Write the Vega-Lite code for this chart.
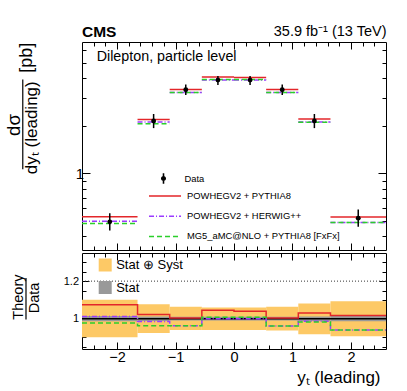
{
  "$schema": "https://vega.github.io/schema/vega-lite/v6.json",
  "padding": {"left": 4, "top": 22, "right": 5, "bottom": 5},
  "spacing": 1,
  "config": {
    "font": "Liberation Sans",
    "view": {"stroke": "#000", "strokeWidth": 1},
    "axis": {"domain": false, "grid": false, "tickColor": "#000", "labelColor": "#000", "titleColor": "#000", "labelFont": "Liberation Sans", "titleFont": "Liberation Sans", "titleFontWeight": "normal"},
    "legend": {"padding": 0, "labelFont": "Liberation Sans", "labelColor": "#000", "labelLimit": 400}
  },
  "resolve": {
    "scale": {"x": "independent", "y": "independent", "color": "independent", "fill": "independent", "stroke": "independent", "strokeDash": "independent"},
    "legend": {"color": "independent", "fill": "independent", "stroke": "independent", "strokeDash": "independent"}
  },
  "datasets": {
    "meas": [
      {"xc": -2.125, "val": 0.494, "elo": 0.435, "ehi": 0.56},
      {"xc": -1.375, "val": 2.14, "elo": 1.93, "ehi": 2.37},
      {"xc": -0.825, "val": 3.37, "elo": 3.12, "ehi": 3.64},
      {"xc": -0.275, "val": 3.88, "elo": 3.61, "ehi": 4.11},
      {"xc": 0.275, "val": 3.88, "elo": 3.61, "ehi": 4.11},
      {"xc": 0.825, "val": 3.37, "elo": 3.12, "ehi": 3.64},
      {"xc": 1.375, "val": 2.14, "elo": 1.93, "ehi": 2.37},
      {"xc": 2.125, "val": 0.521, "elo": 0.46, "ehi": 0.59}
    ],
    "theory": [
      {"model": "POWHEGV2 + PYTHIA8", "lo": -2.6, "hi": -1.65, "val": 0.531},
      {"model": "POWHEGV2 + PYTHIA8", "lo": -1.65, "hi": -1.1, "val": 2.187},
      {"model": "POWHEGV2 + PYTHIA8", "lo": -1.1, "hi": -0.55, "val": 3.383},
      {"model": "POWHEGV2 + PYTHIA8", "lo": -0.55, "hi": 0, "val": 4.055},
      {"model": "POWHEGV2 + PYTHIA8", "lo": 0, "hi": 0.55, "val": 4.035},
      {"model": "POWHEGV2 + PYTHIA8", "lo": 0.55, "hi": 1.1, "val": 3.38},
      {"model": "POWHEGV2 + PYTHIA8", "lo": 1.1, "hi": 1.65, "val": 2.204},
      {"model": "POWHEGV2 + PYTHIA8", "lo": 1.65, "hi": 2.6, "val": 0.53},
      {"model": "POWHEGV2 + HERWIG++", "lo": -2.6, "hi": -1.65, "val": 0.499},
      {"model": "POWHEGV2 + HERWIG++", "lo": -1.65, "hi": -1.1, "val": 2.108},
      {"model": "POWHEGV2 + HERWIG++", "lo": -1.1, "hi": -0.55, "val": 3.242},
      {"model": "POWHEGV2 + HERWIG++", "lo": -0.55, "hi": 0, "val": 3.88},
      {"model": "POWHEGV2 + HERWIG++", "lo": 0, "hi": 0.55, "val": 3.88},
      {"model": "POWHEGV2 + HERWIG++", "lo": 0.55, "hi": 1.1, "val": 3.239},
      {"model": "POWHEGV2 + HERWIG++", "lo": 1.1, "hi": 1.65, "val": 2.11},
      {"model": "POWHEGV2 + HERWIG++", "lo": 1.65, "hi": 2.6, "val": 0.489},
      {"model": "MG5_aMC@NLO + PYTHIA8 [FxFx]", "lo": -2.6, "hi": -1.65, "val": 0.483},
      {"model": "MG5_aMC@NLO + PYTHIA8 [FxFx]", "lo": -1.65, "hi": -1.1, "val": 2.059},
      {"model": "MG5_aMC@NLO + PYTHIA8 [FxFx]", "lo": -1.1, "hi": -0.55, "val": 3.242},
      {"model": "MG5_aMC@NLO + PYTHIA8 [FxFx]", "lo": -0.55, "hi": 0, "val": 3.911},
      {"model": "MG5_aMC@NLO + PYTHIA8 [FxFx]", "lo": 0, "hi": 0.55, "val": 3.911},
      {"model": "MG5_aMC@NLO + PYTHIA8 [FxFx]", "lo": 0.55, "hi": 1.1, "val": 3.239},
      {"model": "MG5_aMC@NLO + PYTHIA8 [FxFx]", "lo": 1.1, "hi": 1.65, "val": 2.101},
      {"model": "MG5_aMC@NLO + PYTHIA8 [FxFx]", "lo": 1.65, "hi": 2.6, "val": 0.489}
    ],
    "ratios": [
      {"model": "POWHEGV2 + PYTHIA8", "x": -2.6, "r": 1.074},
      {"model": "POWHEGV2 + PYTHIA8", "x": -1.65, "r": 1.022},
      {"model": "POWHEGV2 + PYTHIA8", "x": -1.1, "r": 1.004},
      {"model": "POWHEGV2 + PYTHIA8", "x": -0.55, "r": 1.045},
      {"model": "POWHEGV2 + PYTHIA8", "x": 0, "r": 1.04},
      {"model": "POWHEGV2 + PYTHIA8", "x": 0.55, "r": 1.003},
      {"model": "POWHEGV2 + PYTHIA8", "x": 1.1, "r": 1.03},
      {"model": "POWHEGV2 + PYTHIA8", "x": 1.65, "r": 1.017},
      {"model": "POWHEGV2 + PYTHIA8", "x": 2.6, "r": 1.017},
      {"model": "POWHEGV2 + HERWIG++", "x": -2.6, "r": 1.011},
      {"model": "POWHEGV2 + HERWIG++", "x": -1.65, "r": 0.985},
      {"model": "POWHEGV2 + HERWIG++", "x": -1.1, "r": 0.962},
      {"model": "POWHEGV2 + HERWIG++", "x": -0.55, "r": 1.0},
      {"model": "POWHEGV2 + HERWIG++", "x": 0, "r": 1.0},
      {"model": "POWHEGV2 + HERWIG++", "x": 0.55, "r": 0.961},
      {"model": "POWHEGV2 + HERWIG++", "x": 1.1, "r": 0.986},
      {"model": "POWHEGV2 + HERWIG++", "x": 1.65, "r": 0.939},
      {"model": "POWHEGV2 + HERWIG++", "x": 2.6, "r": 0.939},
      {"model": "MG5_aMC@NLO + PYTHIA8 [FxFx]", "x": -2.6, "r": 0.977},
      {"model": "MG5_aMC@NLO + PYTHIA8 [FxFx]", "x": -1.65, "r": 0.962},
      {"model": "MG5_aMC@NLO + PYTHIA8 [FxFx]", "x": -1.1, "r": 0.962},
      {"model": "MG5_aMC@NLO + PYTHIA8 [FxFx]", "x": -0.55, "r": 1.008},
      {"model": "MG5_aMC@NLO + PYTHIA8 [FxFx]", "x": 0, "r": 1.008},
      {"model": "MG5_aMC@NLO + PYTHIA8 [FxFx]", "x": 0.55, "r": 0.961},
      {"model": "MG5_aMC@NLO + PYTHIA8 [FxFx]", "x": 1.1, "r": 0.982},
      {"model": "MG5_aMC@NLO + PYTHIA8 [FxFx]", "x": 1.65, "r": 0.939},
      {"model": "MG5_aMC@NLO + PYTHIA8 [FxFx]", "x": 2.6, "r": 0.939}
    ],
    "bands": [
      {"band": "Stat ⊕ Syst", "lo": -2.6, "hi": -1.65, "blo": 0.901, "bhi": 1.101},
      {"band": "Stat ⊕ Syst", "lo": -1.65, "hi": -1.1, "blo": 0.924, "bhi": 1.077},
      {"band": "Stat ⊕ Syst", "lo": -1.1, "hi": -0.55, "blo": 0.939, "bhi": 1.063},
      {"band": "Stat ⊕ Syst", "lo": -0.55, "hi": 0, "blo": 0.94, "bhi": 1.06},
      {"band": "Stat ⊕ Syst", "lo": 0, "hi": 0.55, "blo": 0.94, "bhi": 1.06},
      {"band": "Stat ⊕ Syst", "lo": 0.55, "hi": 1.1, "blo": 0.937, "bhi": 1.063},
      {"band": "Stat ⊕ Syst", "lo": 1.1, "hi": 1.65, "blo": 0.917, "bhi": 1.081},
      {"band": "Stat ⊕ Syst", "lo": 1.65, "hi": 2.6, "blo": 0.906, "bhi": 1.093},
      {"band": "Stat", "lo": -2.6, "hi": -1.65, "blo": 0.986, "bhi": 1.014},
      {"band": "Stat", "lo": -1.65, "hi": -1.1, "blo": 0.988, "bhi": 1.012},
      {"band": "Stat", "lo": -1.1, "hi": -0.55, "blo": 0.99, "bhi": 1.01},
      {"band": "Stat", "lo": -0.55, "hi": 0, "blo": 0.99, "bhi": 1.01},
      {"band": "Stat", "lo": 0, "hi": 0.55, "blo": 0.99, "bhi": 1.01},
      {"band": "Stat", "lo": 0.55, "hi": 1.1, "blo": 0.99, "bhi": 1.01},
      {"band": "Stat", "lo": 1.1, "hi": 1.65, "blo": 0.988, "bhi": 1.012},
      {"band": "Stat", "lo": 1.65, "hi": 2.6, "blo": 0.986, "bhi": 1.014}
    ]
  },
  "vconcat": [
    {
      "width": 304,
      "height": 208,
      "title": {"text": "CMS", "anchor": "start", "frame": "group", "fontSize": 15.5, "fontWeight": "bold", "font": "Liberation Sans", "color": "#000", "baseline": "alphabetic", "offset": -29.2},
      "layer": [
        {
          "data": {"name": "theory"},
          "mark": {"type": "rule", "strokeWidth": 1.5},
          "encoding": {
            "x": {"field": "lo", "type": "quantitative", "scale": {"domain": [-2.6, 2.6], "nice": false, "zero": false},
              "axis": {"orient": "bottom", "values": [-2.4,-2.2,-2,-1.8,-1.6,-1.4,-1.2,-1,-0.8,-0.6,-0.4,-0.2,0,0.2,0.4,0.6,0.8,1,1.2,1.4,1.6,1.8,2,2.2,2.4], "labels": false, "title": null,
                "tickSize": {"condition": {"test": "abs(datum.value-round(datum.value))<0.01", "value": -7}, "value": -4}}},
            "x2": {"field": "hi"},
            "y": {"field": "val", "type": "quantitative", "scale": {"type": "log", "domain": [0.328, 6.75], "nice": false},
              "axis": {"orient": "left", "values": [0.4,0.5,0.6,0.7,0.8,0.9,1,2,3,4,5,6], "labelExpr": "datum.value == 1 ? '1' : ''", "labelOverlap": false, "labelFontSize": 15, "labelPadding": 6.5, "title": null,
                "tickSize": {"condition": {"test": "datum.value == 1", "value": -8}, "value": -4}}},
            "color": {"field": "model", "type": "nominal",
              "scale": {"domain": ["POWHEGV2 + PYTHIA8", "POWHEGV2 + HERWIG++", "MG5_aMC@NLO + PYTHIA8 [FxFx]"], "range": ["#e3262a", "#9b3bff", "#2bcf2b"]},
              "legend": {"orient": "none", "legendX": 77, "legendY": 148, "title": null, "symbolType": "M-3.2,0L3.2,0", "symbolSize": 100, "symbolStrokeWidth": 1.5, "labelFontSize": 9.4, "labelOffset": 16, "rowPadding": 9.2}},
            "strokeDash": {"field": "model", "type": "nominal",
              "scale": {"domain": ["POWHEGV2 + PYTHIA8", "POWHEGV2 + HERWIG++", "MG5_aMC@NLO + PYTHIA8 [FxFx]"], "range": [[1, 0], [5, 2, 1, 2], [5, 3]]},
              "legend": {"orient": "none", "legendX": 77, "legendY": 148, "title": null, "symbolType": "M-3.2,0L3.2,0", "symbolSize": 100, "symbolStrokeWidth": 1.5, "labelFontSize": 9.4, "labelOffset": 16, "rowPadding": 9.2}}
          }
        },
        {
          "data": {"name": "meas"},
          "mark": {"type": "rule", "color": "#000", "strokeWidth": 1.5},
          "encoding": {
            "x": {"field": "xc", "type": "quantitative",
              "axis": {"orient": "top", "values": [-2.4,-2.2,-2,-1.8,-1.6,-1.4,-1.2,-1,-0.8,-0.6,-0.4,-0.2,0,0.2,0.4,0.6,0.8,1,1.2,1.4,1.6,1.8,2,2.2,2.4], "labels": false,
                "title": "35.9 fb⁻¹ (13 TeV)", "titleFontSize": 14.5, "titleX": 304, "titleY": -7, "titleAlign": "right", "titleBaseline": "alphabetic", "titleAngle": 0,
                "tickSize": {"condition": {"test": "abs(datum.value-round(datum.value))<0.01", "value": -7}, "value": -4}}},
            "y": {"field": "elo", "type": "quantitative",
              "axis": {"orient": "right", "values": [0.4,0.5,0.6,0.7,0.8,0.9,1,2,3,4,5,6], "labels": false, "title": null,
                "tickSize": {"condition": {"test": "datum.value == 1", "value": -8}, "value": -4}}},
            "y2": {"field": "ehi"}
          }
        },
        {
          "data": {"name": "meas"},
          "mark": {"type": "point", "filled": true, "size": 24, "opacity": 1, "color": "#000"},
          "encoding": {
            "x": {"field": "xc", "type": "quantitative", "axis": null},
            "y": {"field": "val", "type": "quantitative", "axis": null},
            "fill": {"datum": "Data", "type": "nominal", "scale": {"range": ["#000000"]},
              "legend": {"orient": "none", "legendX": 76, "legendY": 131, "title": null, "symbolType": "M-0.15,-1L0.15,-1L0.15,1L-0.15,1Z M-0.48,0A0.48,0.48 0 1,1 0.48,0A0.48,0.48 0 1,1 -0.48,0Z", "symbolSize": 110, "symbolStrokeWidth": 0, "symbolOpacity": 1, "labelFontSize": 9.4, "labelOffset": 15.5}}
          }
        },
        {
          "data": {"values": [{}]},
          "mark": {"type": "text", "align": "left", "baseline": "alphabetic", "fontSize": 14.3, "font": "Liberation Sans", "color": "#000"},
          "encoding": {
            "x": {"datum": -2.349, "type": "quantitative", "axis": null},
            "y": {"datum": 5.095, "type": "quantitative", "axis": null},
            "text": {"value": "Dilepton, particle level"}
          }
        },
        {
          "data": {"values": [{}]},
          "mark": {"type": "text", "align": "center", "baseline": "middle", "angle": 270, "fontSize": 18.5, "font": "Liberation Sans", "color": "#000"},
          "encoding": {
            "x": {"datum": -3.77, "type": "quantitative", "axis": null},
            "y": {"datum": 2.018, "type": "quantitative", "axis": null},
            "text": {"value": "dσ"}
          }
        },
        {
          "data": {"values": [{}]},
          "mark": {"type": "text", "align": "center", "baseline": "middle", "angle": 270, "fontSize": 17, "font": "Liberation Sans", "color": "#000"},
          "encoding": {
            "x": {"datum": -3.455, "type": "quantitative", "axis": null},
            "y": {"datum": 1.941, "type": "quantitative", "axis": null},
            "text": {"value": "dyₜ (leading)"}
          }
        },
        {
          "data": {"values": [{}]},
          "mark": {"type": "text", "align": "center", "baseline": "middle", "angle": 270, "fontSize": 18, "font": "Liberation Sans", "color": "#000"},
          "encoding": {
            "x": {"datum": -3.536, "type": "quantitative", "axis": null},
            "y": {"datum": 5.37, "type": "quantitative", "axis": null},
            "text": {"value": "[pb]"}
          }
        },
        {
          "data": {"values": [{}]},
          "mark": {"type": "rule", "color": "#000", "strokeWidth": 1.2},
          "encoding": {
            "x": {"datum": -3.613, "type": "quantitative", "axis": null},
            "y": {"datum": 1.06, "type": "quantitative", "axis": null},
            "y2": {"datum": 3.92}
          }
        }
      ]
    },
    {
      "width": 304,
      "height": 96,
      "layer": [
        {
          "data": {"name": "bands"},
          "mark": {"type": "rect", "opacity": 1},
          "encoding": {
            "x": {"field": "lo", "type": "quantitative", "scale": {"domain": [-2.6, 2.6], "nice": false, "zero": false},
              "axis": {"orient": "bottom", "values": [-2.4,-2.2,-2,-1.8,-1.6,-1.4,-1.2,-1,-0.8,-0.6,-0.4,-0.2,0,0.2,0.4,0.6,0.8,1,1.2,1.4,1.6,1.8,2,2.2,2.4],
                "labelExpr": "abs(datum.value-round(datum.value))<0.01 ? format(datum.value, 'd') : ''", "labelOverlap": false, "labelFontSize": 14.5, "labelPadding": 8.5, "labelFlush": false,
                "title": "yₜ (leading)", "titleFontSize": 17, "titleX": 298, "titleY": 33, "titleAlign": "right", "titleBaseline": "alphabetic",
                "tickSize": {"condition": {"test": "abs(datum.value-round(datum.value))<0.01", "value": -7}, "value": -4}}},
            "x2": {"field": "hi"},
            "y": {"field": "blo", "type": "quantitative", "scale": {"domain": [0.838, 1.35], "nice": false, "zero": false},
              "axis": {"orient": "left", "values": [0.85,0.9,0.95,1,1.05,1.1,1.15,1.2,1.25,1.3], "labelExpr": "abs(datum.value-1)<0.001 ? '1' : abs(datum.value-1.2)<0.001 ? '1.2' : ''", "labelOverlap": false, "labelFontSize": 11, "labelPadding": 10.5, "title": null,
                "tickSize": {"condition": {"test": "abs(datum.value-1)<0.001 || abs(datum.value-1.2)<0.001", "value": -7}, "value": -4}}},
            "y2": {"field": "bhi"},
            "fill": {"field": "band", "type": "nominal",
              "scale": {"domain": ["Stat ⊕ Syst", "Stat"], "range": ["#fdc966", "#999999"]},
              "legend": {"orient": "none", "legendX": 16.7, "legendY": 5.5, "title": null, "symbolType": "square", "symbolSize": 169, "symbolStrokeWidth": 0, "symbolOpacity": 1, "labelFontSize": 13, "labelOffset": 4.5, "rowPadding": 8.5}}
          }
        },
        {
          "data": {"values": [{}]},
          "mark": {"type": "rule", "color": "#000", "strokeWidth": 1.5},
          "encoding": {"y": {"datum": 1, "type": "quantitative", "axis": null}}
        },
        {
          "data": {"values": [{}]},
          "mark": {"type": "rule", "color": "#333", "strokeWidth": 1, "strokeDash": [1, 2]},
          "encoding": {"y": {"datum": 1.2, "type": "quantitative", "axis": null}}
        },
        {
          "data": {"name": "ratios"},
          "mark": {"type": "line", "interpolate": "step-after", "strokeWidth": 1.5},
          "encoding": {
            "x": {"field": "x", "type": "quantitative", "scale": {"domain": [-2.6, 2.6], "nice": false, "zero": false},
              "axis": {"orient": "top", "values": [-2.4,-2.2,-2,-1.8,-1.6,-1.4,-1.2,-1,-0.8,-0.6,-0.4,-0.2,0,0.2,0.4,0.6,0.8,1,1.2,1.4,1.6,1.8,2,2.2,2.4], "labels": false, "title": null,
                "tickSize": {"condition": {"test": "abs(datum.value-round(datum.value))<0.01", "value": -7}, "value": -4}}},
            "y": {"field": "r", "type": "quantitative", "scale": {"domain": [0.838, 1.35], "nice": false, "zero": false},
              "axis": {"orient": "right", "values": [0.85,0.9,0.95,1,1.05,1.1,1.15,1.2,1.25,1.3], "labels": false, "title": null,
                "tickSize": {"condition": {"test": "abs(datum.value-1)<0.001 || abs(datum.value-1.2)<0.001", "value": -7}, "value": -4}}},
            "stroke": {"field": "model", "type": "nominal",
              "scale": {"domain": ["POWHEGV2 + PYTHIA8", "POWHEGV2 + HERWIG++", "MG5_aMC@NLO + PYTHIA8 [FxFx]"], "range": ["#e3262a", "#9b3bff", "#2bcf2b"]}, "legend": null},
            "strokeDash": {"field": "model", "type": "nominal",
              "scale": {"domain": ["POWHEGV2 + PYTHIA8", "POWHEGV2 + HERWIG++", "MG5_aMC@NLO + PYTHIA8 [FxFx]"], "range": [[1, 0], [5, 2, 1, 2], [5, 3]]}, "legend": null}
          }
        },
        {
          "data": {"values": [{}]},
          "mark": {"type": "text", "align": "center", "baseline": "middle", "angle": 270, "fontSize": 14.5, "font": "Liberation Sans", "color": "#000"},
          "encoding": {
            "x": {"datum": -3.686, "type": "quantitative", "axis": null},
            "y": {"datum": 1.115, "type": "quantitative", "axis": null},
            "text": {"value": "Theory"}
          }
        },
        {
          "data": {"values": [{}]},
          "mark": {"type": "text", "align": "center", "baseline": "middle", "angle": 270, "fontSize": 14.5, "font": "Liberation Sans", "color": "#000"},
          "encoding": {
            "x": {"datum": -3.409, "type": "quantitative", "axis": null},
            "y": {"datum": 1.11, "type": "quantitative", "axis": null},
            "text": {"value": "Data"}
          }
        },
        {
          "data": {"values": [{}]},
          "mark": {"type": "rule", "color": "#000", "strokeWidth": 1.2},
          "encoding": {
            "x": {"datum": -3.558, "type": "quantitative", "axis": null},
            "y": {"datum": 0.995, "type": "quantitative", "axis": null},
            "y2": {"datum": 1.217}
          }
        }
      ]
    }
  ]
}
